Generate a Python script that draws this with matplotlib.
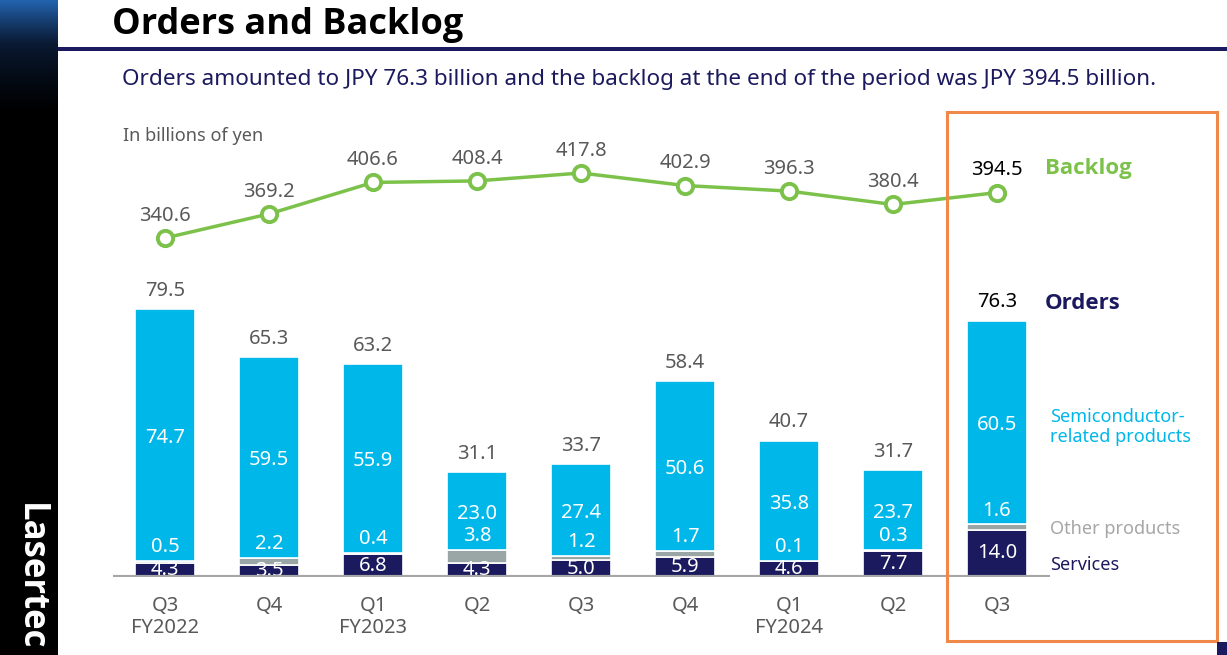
import numpy as np
import matplotlib
matplotlib.use('Agg')
from matplotlib import pyplot as plt
from matplotlib.patches import Rectangle
from matplotlib.colors import LinearSegmentedColormap

plt.rcParams['font.family'] = ['Noto Sans', 'DejaVu Sans']
bold_font = ['Open Sans', 'Lato', 'DejaVu Sans']

quarters = ['Q3\nFY2022', 'Q4', 'Q1\nFY2023', 'Q2', 'Q3', 'Q4', 'Q1\nFY2024', 'Q2', 'Q3']
services = [4.3, 3.5, 6.8, 4.3, 5.0, 5.9, 4.6, 7.7, 14.0]
other = [0.5, 2.2, 0.4, 3.8, 1.2, 1.7, 0.1, 0.3, 1.6]
semi = [74.7, 59.5, 55.9, 23.0, 27.4, 50.6, 35.8, 23.7, 60.5]
totals = [79.5, 65.3, 63.2, 31.1, 33.7, 58.4, 40.7, 31.7, 76.3]
backlog = [340.6, 369.2, 406.6, 408.4, 417.8, 402.9, 396.3, 380.4, 394.5]

W, H = 1227, 655
navy = '#1b1a5e'
cyan = '#00b7ea'
grey = '#9aa5a5'
green = '#7cc24a'
txt = '#595959'

fig = plt.figure(figsize=(W / 100, H / 100), dpi=100)

# sidebar with gradient
side = fig.add_axes([0, 0, 58 / W, 1])
cm = LinearSegmentedColormap.from_list('side', ['#000000', '#000000', '#0a1a33', '#2262ad'])
grad = np.linspace(0, 1, 256).reshape(-1, 1) ** 6
side.imshow(grad, aspect='auto', cmap=cm, origin='lower', extent=[0, 1, 0, 1])
side.set_axis_off()
side.text(0.52, 0.12, 'Lasertec', color='white', fontsize=25, fontweight='bold',
          family=bold_font, rotation=-90, ha='center', va='center', transform=side.transAxes)

# title and rule
fig.text(112 / W, 1 - 25 / H, 'Orders and Backlog', fontsize=26, fontweight='bold',
         family=bold_font, color='black', va='center')
fig.add_artist(Rectangle((58 / W, 1 - 51 / H), 1, 4 / H, transform=fig.transFigure,
                         color=navy, lw=0))
fig.text(122 / W, 1 - 80 / H,
         'Orders amounted to JPY 76.3 billion and the backlog at the end of the period was JPY 394.5 billion.',
         fontsize=16.2, color=navy, va='center')
fig.text(123 / W, 1 - 136 / H, 'In billions of yen', fontsize=13, color=txt, va='center')

# main axes: baseline at y=577, top at y=100, 3.37 px per unit
ax = fig.add_axes([113 / W, (H - 577) / H, (1050 - 113) / W, (577 - 100) / H])
ax.set_xlim(-0.5, 8.51)
ax.set_ylim(0, 477 / 3.37)
x = np.arange(len(quarters))
bw = 0.58
b1 = np.array(services)
b2 = b1 + np.array(other)
ax.bar(x, services, bw, color=navy, edgecolor='white', linewidth=1.2, zorder=2)
ax.bar(x, other, bw, bottom=b1, color=grey, edgecolor='white', linewidth=1.2, zorder=2)
ax.bar(x, semi, bw, bottom=b2, color=cyan, edgecolor='white', linewidth=1.2, zorder=2)
ax.axhline(0, color='#a6a6a6', lw=3, zorder=4)

for i in x:
    last = i == len(x) - 1
    ax.text(i, services[i] / 2, f'{services[i]:.1f}', ha='center', va='center',
            color='white', fontsize=14.5, zorder=3)
    ax.annotate(f'{other[i]:.1f}', (i, b2[i]), xytext=(0, 10), textcoords='offset points',
                ha='center', va='center', color='white', fontsize=14.5, zorder=3)
    ax.annotate(f'{semi[i]:.1f}', (i, b2[i] + semi[i] / 2), xytext=(0, -2),
                textcoords='offset points', ha='center', va='center',
                color='white', fontsize=14.5, zorder=3)
    ax.annotate(f'{totals[i]:.1f}', (i, b2[i] + semi[i]), xytext=(0, 13),
                textcoords='offset points', ha='center', va='center',
                color='black' if last else txt, fontsize=14.5)

ax.set_xticks(x)
ax.set_xticklabels(quarters, fontsize=14.5, color=txt, linespacing=1.1)
ax.tick_params(axis='x', length=0, pad=14)
ax.set_yticks([])
for s in ax.spines.values():
    s.set_visible(False)

# backlog line on its own scale
ax2 = ax.twinx()
ax2.set_ylim(340.6 - 339 / 0.842, 340.6 + 138 / 0.842)
ax2.plot(x, backlog, color=green, lw=2.5, marker='o', markersize=11,
         markerfacecolor='white', markeredgecolor=green, markeredgewidth=2.8, zorder=5)
for i in x:
    last = i == len(x) - 1
    ax2.annotate(f'{backlog[i]:.1f}', (i, backlog[i]), xytext=(0, 16),
                 textcoords='offset points', ha='center', va='center',
                 color='black' if last else txt, fontsize=14.5)
ax2.set_yticks([])
for s in ax2.spines.values():
    s.set_visible(False)

# legend texts
fig.text(1045 / W, 1 - 168 / H, 'Backlog', fontsize=16, fontweight='bold', family=bold_font,
         color=green, va='center')
fig.text(1045 / W, 1 - 303 / H, 'Orders', fontsize=16, fontweight='bold', family=bold_font,
         color=navy, va='center')
fig.text(1050 / W, 1 - 427 / H, 'Semiconductor-\nrelated products', fontsize=13, color=cyan,
         va='center', linespacing=1.15)
fig.text(1050 / W, 1 - 529 / H, 'Other products', fontsize=13, color='#a6a6a6', va='center')
fig.text(1050 / W, 1 - 565 / H, 'Services', fontsize=13, color=navy, va='center')

# highlight box
fig.add_artist(Rectangle((947 / W, 1 - 641 / H), 270 / W, 529 / H, transform=fig.transFigure,
                         fill=False, edgecolor='#f0884a', lw=2.2))
fig.add_artist(Rectangle((1217 / W, 0), 10 / W, 13 / H, transform=fig.transFigure,
                         color=navy, lw=0))

fig.savefig('out.png', dpi=100)
